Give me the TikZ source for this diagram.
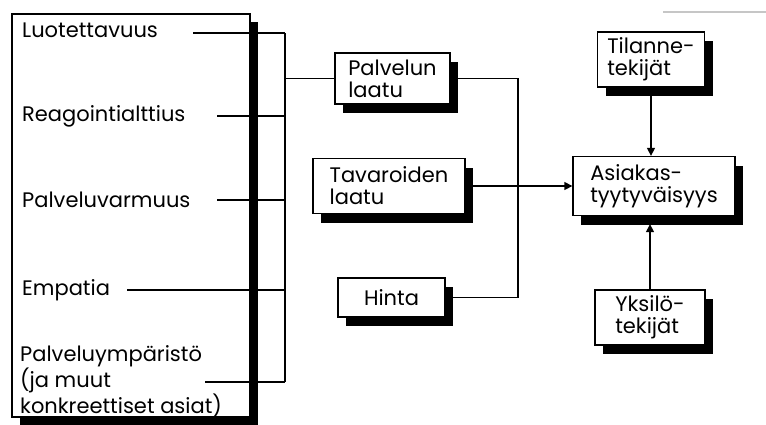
\documentclass[tikz,border=0pt]{standalone}
\usepackage{fontspec}
\setmainfont{Poppins}
\usetikzlibrary{arrows.meta,shadows}
\begin{document}
\begin{tikzpicture}[x=1pt,y=-1pt,
  txt/.style={font=\fontsize{21}{22}\selectfont},
  lbl/.style={txt, inner sep=0pt, anchor=west, align=left},
  shbox/.style={draw, line width=1.3pt, fill=white, txt, align=left, inner sep=0pt,
    drop shadow={fill=black, opacity=1, shadow xshift=8pt, shadow yshift=-9pt}},
  conn/.style={line width=1.3pt},
  arr/.style={conn, -{Triangle[length=8pt,width=8pt]}}
]
\useasboundingbox (0,0) rectangle (766,424);
% faint scan line top right
\draw[gray!45, line width=1.5pt] (663,12) -- (766,12);

% big box on the left
\node[draw, line width=1.3pt, fill=white, minimum width=238pt, minimum height=403pt,
  drop shadow={fill=black, opacity=1, shadow xshift=8pt, shadow yshift=-8pt}]
  (big) at (131,215.5) {};

\node[lbl] (t1) at (22,30) {Luotettavuus};
\node[lbl] (t2) at (22,116) {Reagointialttius};
\node[lbl] (t3) at (22,200) {Palveluvarmuus};
\node[lbl] (t4) at (22,290) {Empatia};
\node[lbl, anchor=north west] (t5) at (20,345) {Palveluympäristö\\(ja muut\\konkreettiset asiat)};

% middle boxes
\node[shbox, minimum width=115pt, minimum height=51pt] (pl) at (392.5,78.5) {Palvelun\\laatu};
\node[shbox, minimum width=152pt, minimum height=55pt] (ta) at (389,186) {Tavaroiden\\laatu};
\node[shbox, minimum width=107pt, minimum height=39pt] (hi) at (391.5,297.5) {Hinta};

% right boxes
\node[shbox, minimum width=107pt, minimum height=55pt] (ti) at (651,59.5) {Tilanne-\\tekijät};
\node[shbox, minimum width=162pt, minimum height=59pt] (as) at (654,186) {Asiakas-\\tyytyväisyys};
\node[shbox, minimum width=110pt, minimum height=55pt] (yk) at (650,317.5) {Yksilö-\\tekijät};

% bus coordinates
\coordinate (bt) at (285,33);
\coordinate (bb) at (285,382);
\coordinate (s1) at (193,33);
\coordinate (s2) at (217,116);
\coordinate (s3) at (217,200);
\coordinate (s4) at (127,290);
\coordinate (s5) at (205,382);
\coordinate (j) at (518,186);
\coordinate (asb) at ([yshift=-8pt]as.south);

\draw[conn] (s1) -- (bt);
\draw[conn] (s2) -- (s2 -| bt);
\draw[conn] (s3) -- (s3 -| bt);
\draw[conn] (s4) -- (s4 -| bt);
\draw[conn] (s5) -- (bb);
\draw[conn] (bt) -- (bb);
\draw[conn] (bt |- pl.west) -- (pl.west);

\draw[conn] (pl.east) -| (j);
\draw[conn] (hi.east) -| (j);
\draw[arr] (ta.east) -- (as.west);
\draw[arr] (ti.south) -- (ti.south |- as.north);
\draw[arr] (yk.north) -- (yk.north |- asb);
\end{tikzpicture}
\end{document}
